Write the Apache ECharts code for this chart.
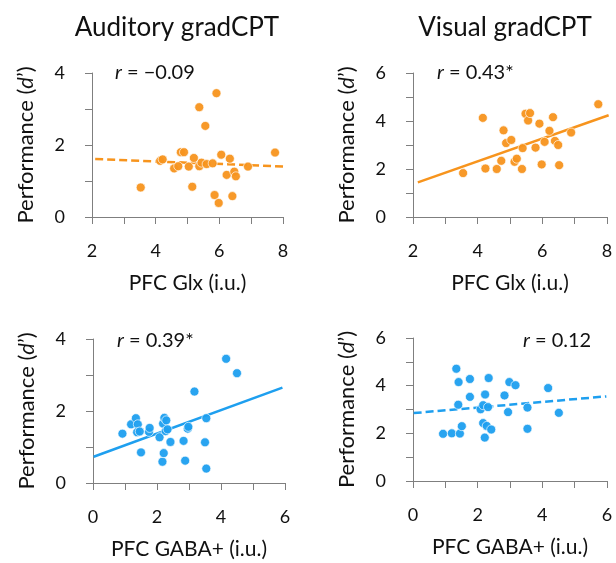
<!DOCTYPE html>
<html lang="en" style="height: 100%">
<head>
  <meta charset="UTF-8">
</head>
<body style="height: 100%; margin: 0">
  <div id="container" style="width: 616px; height: 563px"></div>
  <script type="text/javascript" src="https://fastly.jsdelivr.net/npm/echarts@6/dist/echarts.min.js"></script>
  <script type="text/javascript">
// top-left: auditory vs PFC Glx
var audGlxX = [3.53, 4.14, 4.22, 4.58, 4.71, 4.79, 4.89, 5.04, 5.15, 5.20, 5.37, 5.37, 5.44, 5.56, 5.60,
  5.79, 5.85, 5.91, 5.98, 6.06, 6.23, 6.33, 6.41, 6.47, 6.52, 6.90, 7.75];
var audGlxY = [0.82, 1.56, 1.60, 1.35, 1.41, 1.80, 1.80, 1.40, 0.84, 1.64, 3.05, 1.41, 1.51, 2.53, 1.47,
  1.49, 0.61, 3.44, 0.39, 1.73, 1.17, 1.62, 0.58, 1.26, 1.13, 1.40, 1.79];
var audGlxFitX = [2.1, 8.1];
var audGlxFitY = [1.61, 1.40];

// top-right: visual vs PFC Glx
var visGlxX = [3.55, 4.16, 4.24, 4.59, 4.73, 4.80, 4.88, 5.04, 5.14, 5.21, 5.37, 5.39, 5.48, 5.56, 5.62,
  5.79, 5.91, 5.98, 6.07, 6.22, 6.33, 6.39, 6.49, 6.52, 6.89, 7.73];
var visGlxY = [1.83, 4.13, 2.02, 2.00, 2.34, 3.61, 3.08, 3.21, 2.30, 2.43, 2.00, 2.87, 4.30, 4.02, 4.33,
  2.89, 3.89, 2.19, 3.13, 3.59, 4.16, 3.17, 3.00, 2.16, 3.52, 4.70];
var visGlxFitX = [2.15, 8.05];
var visGlxFitY = [1.44, 4.24];

// bottom-left: auditory vs PFC GABA+
var audGabaX = [0.92, 1.19, 1.34, 1.40, 1.38, 1.46, 1.50, 1.75, 1.77, 2.08, 2.17, 2.21, 2.19, 2.23, 2.29,
  2.27, 2.33, 2.42, 2.83, 2.88, 2.96, 2.98, 3.17, 3.50, 3.54, 3.54, 4.16, 4.50];
var audGabaY = [1.37, 1.63, 1.80, 1.63, 1.41, 1.43, 0.85, 1.42, 1.53, 1.27, 0.59, 0.83, 1.65, 1.81, 1.74,
  1.44, 1.49, 1.14, 1.17, 0.62, 1.51, 1.56, 2.54, 1.13, 1.80, 0.40, 3.45, 3.05];
var audGabaFitX = [0.02, 5.92];
var audGabaFitY = [0.73, 2.65];

// bottom-right: visual vs PFC GABA+
var visGabaX = [0.93, 1.20, 1.34, 1.41, 1.40, 1.45, 1.51, 1.76, 1.76, 2.09, 2.17, 2.17, 2.23, 2.28, 2.22,
  2.32, 2.34, 2.42, 2.83, 2.94, 2.98, 3.17, 3.54, 3.54, 4.18, 4.51];
var visGabaY = [1.98, 2.00, 4.71, 4.15, 3.20, 1.99, 2.30, 4.28, 3.53, 3.01, 3.18, 2.43, 3.63, 2.31, 1.82,
  3.10, 4.32, 2.16, 3.59, 2.89, 4.15, 4.02, 3.08, 2.19, 3.90, 2.86];
var visGabaFitX = [0.02, 5.98];
var visGabaFitY = [2.85, 3.55];

var titles = ['Auditory gradCPT', 'Visual gradCPT'];
var xNames = ['PFC Glx (i.u.)', 'PFC Glx (i.u.)', 'PFC GABA+ (i.u.)', 'PFC GABA+ (i.u.)'];
var rLabels = [' = \u22120.09', ' = 0.43*', ' = 0.39*', ' = 0.12'];
var xRanges = [[2, 8], [2, 8], [0, 6], [0, 6]];
var yMax = [4, 6, 4, 6];

var ORANGE = '#F7941D';
var BLUE = '#1E9FEF';
var FONT = 'Lato';

var grids = [
  { left: 92, top: 73, width: 191, height: 144 },
  { left: 413, top: 73, width: 194, height: 144 },
  { left: 93, top: 339, width: 192, height: 144 },
  { left: 413, top: 338, width: 194, height: 143 }
];

function zip(xs, ys) {
  return xs.map(function (x, i) { return [x, ys[i]]; });
}

var panels = [
  { pts: zip(audGlxX, audGlxY), fit: zip(audGlxFitX, audGlxFitY), color: ORANGE, dash: true },
  { pts: zip(visGlxX, visGlxY), fit: zip(visGlxFitX, visGlxFitY), color: ORANGE, dash: false },
  { pts: zip(audGabaX, audGabaY), fit: zip(audGabaFitX, audGabaFitY), color: BLUE, dash: false },
  { pts: zip(visGabaX, visGabaY), fit: zip(visGabaFitX, visGabaFitY), color: BLUE, dash: true }
];

var axisGray = '#7f7f7f';
var xAxes = [], yAxes = [], series = [];
panels.forEach(function (p, i) {
  xAxes.push({
    type: 'value', gridIndex: i, min: xRanges[i][0], max: xRanges[i][1], interval: 2,
    name: xNames[i], nameLocation: 'middle', nameGap: 56,
    nameTextStyle: { fontFamily: FONT, fontSize: 21, color: '#111' },
    axisLine: { show: true, onZero: false, lineStyle: { color: axisGray, width: 1 } },
    axisTick: { show: true, length: 7, lineStyle: { color: axisGray } },
    minorTick: { show: true, splitNumber: 2, length: 7, lineStyle: { color: axisGray } },
    axisLabel: { fontFamily: FONT, fontSize: 18, color: '#111', margin: 25 },
    splitLine: { show: false }
  });
  yAxes.push({
    type: 'value', gridIndex: i, min: 0, max: yMax[i], interval: 2,
    name: 'Performance ({i|d}\u2019)', nameLocation: 'middle', nameGap: 55,
    nameTextStyle: {
      fontFamily: FONT, fontSize: 22, color: '#111',
      rich: { i: { fontFamily: FONT, fontSize: 22, fontStyle: 'italic', color: '#111' } }
    },
    axisLine: { show: true, onZero: false, lineStyle: { color: axisGray, width: 1 } },
    axisTick: { show: true, length: 7, lineStyle: { color: axisGray } },
    minorTick: { show: true, splitNumber: 2, length: 7, lineStyle: { color: axisGray } },
    axisLabel: { fontFamily: FONT, fontSize: 18, color: '#111', margin: 27 },
    splitLine: { show: false }
  });
  series.push({
    type: 'line', xAxisIndex: i, yAxisIndex: i, data: p.fit, symbol: 'none', clip: false,
    lineStyle: { color: p.color, width: 2.5, type: p.dash ? [8, 4] : 'solid' },
    z: 1, silent: true
  });
  series.push({
    type: 'scatter', xAxisIndex: i, yAxisIndex: i, data: p.pts, symbolSize: 9,
    itemStyle: { color: p.color, borderColor: 'rgba(255,255,255,0.7)', borderWidth: 1, opacity: 0.95 },
    z: 2
  });
});

var rPos = [[115, 75], [437, 75], [117, 343], [523, 343]];
var graphics = rPos.map(function (pos, i) {
  return {
    type: 'text', left: pos[0], top: pos[1] - 12,
    style: {
      text: '{i|r}' + rLabels[i],
      font: '20px ' + FONT, fill: '#111',
      rich: { i: { fontFamily: FONT, fontSize: 20, fontStyle: 'italic', fill: '#111' } }
    }
  };
});

var dom = document.getElementById('container');
var myChart = echarts.init(dom, null, { renderer: 'canvas' });
var option = {
  backgroundColor: '#fff',
  animation: false,
  title: [
    { text: titles[0], left: 172, top: 10, textAlign: 'center',
      textStyle: { fontFamily: FONT, fontSize: 26, fontWeight: 'normal', color: '#111' } },
    { text: titles[1], left: 500, top: 10, textAlign: 'center',
      textStyle: { fontFamily: FONT, fontSize: 26, fontWeight: 'normal', color: '#111' } }
  ],
  grid: grids,
  xAxis: xAxes,
  yAxis: yAxes,
  series: series,
  graphic: graphics
};
myChart.setOption(option);
window.addEventListener('resize', myChart.resize);
  </script>
</body>
</html>
